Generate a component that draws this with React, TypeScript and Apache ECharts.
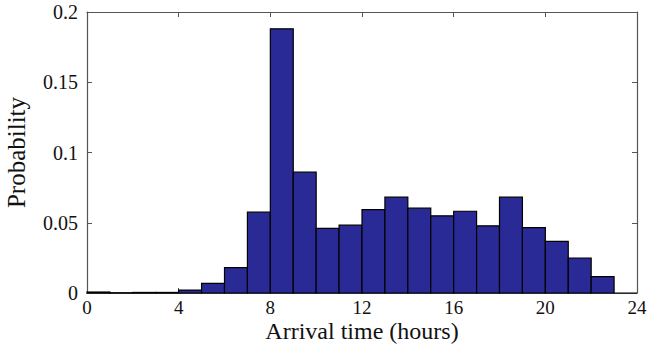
import React, { useEffect, useRef } from "react";
import * as echarts from "echarts";

const binStarts = [0,1,2,3,4,5,6,7,8,9,10,11,12,13,14,15,16,17,18,19,20,21,22,23];
const probabilities = [0.0007,0.0002,0.0004,0.0004,0.0021,0.0068,0.018,0.0575,0.188,0.086,0.046,0.0483,0.0594,0.0682,0.0604,0.0549,0.0582,0.0478,0.0682,0.0466,0.0367,0.0249,0.0116,0];
const xTicks = [0,4,8,12,16,20,24];
const yTicks = [0,0.05,0.1,0.15,0.2];

export default function App() {
  const ref = useRef<HTMLDivElement>(null);
  useEffect(() => {
    const chart = echarts.init(ref.current!, null, { renderer: "svg" });
    const font = "Liberation Serif";
    const frame = "#555";
    const data = binStarts.map((s, i) => [s, s + 1, probabilities[i]]);
    const axisCommon = {
      axisLine: { show: true, onZero: false, lineStyle: { color: frame, width: 1.2 } },
      axisTick: { show: true, inside: true, length: 5, lineStyle: { color: frame } },
      splitLine: { show: false },
    };
    chart.setOption({
      animation: false,
      grid: { left: 87, right: 13, top: 12, bottom: 54, outerBoundsMode: "none", containLabel: false },
      xAxis: [
        {
          type: "value", min: 0, max: 24, interval: 4, position: "bottom",
          ...axisCommon,
          axisLabel: { color: "#111", fontFamily: font, fontSize: 19, lineHeight: 19, margin: 5,
            formatter: (v: number) => (xTicks.includes(v) ? String(v) : "") },
          name: "Arrival time (hours)", nameLocation: "middle", nameGap: 26, nameMoveOverlap: false,
          nameTextStyle: { color: "#111", fontFamily: font, fontSize: 24, lineHeight: 24 },
        },
        {
          type: "value", min: 0, max: 24, interval: 4, position: "top",
          ...axisCommon, axisLabel: { show: false },
        },
      ],
      yAxis: [
        {
          type: "value", min: 0, max: 0.2, interval: 0.05, position: "left",
          ...axisCommon,
          axisLabel: { color: "#111", fontFamily: font, fontSize: 20, margin: 9,
            formatter: (v: number) => (yTicks.includes(+v.toFixed(2)) ? String(+v.toFixed(2)) : "") },
          name: "Probability", nameLocation: "middle", nameGap: 58, nameMoveOverlap: false,
          nameTextStyle: { color: "#111", fontFamily: font, fontSize: 25 },
        },
        {
          type: "value", min: 0, max: 0.2, interval: 0.05, position: "right",
          ...axisCommon, axisLabel: { show: false },
        },
      ],
      series: [
        {
          type: "custom",
          xAxisIndex: 0, yAxisIndex: 0,
          renderItem: (params: any, api: any) => {
            const p0 = api.coord([api.value(0), api.value(2)]);
            const p1 = api.coord([api.value(1), 0]);
            return {
              type: "rect",
              shape: { x: p0[0], y: p0[1], width: p1[0] - p0[0], height: p1[1] - p0[1] },
              style: { fill: "#2a2a96", stroke: "#000", lineWidth: 1.2 },
            };
          },
          encode: { x: [0, 1], y: 2 },
          data,
        },
      ],
    });
    return () => chart.dispose();
  }, []);
  return <div ref={ref} style={{ width: 650, height: 347, position: "absolute", left: 0, top: 0 }} />;
}
